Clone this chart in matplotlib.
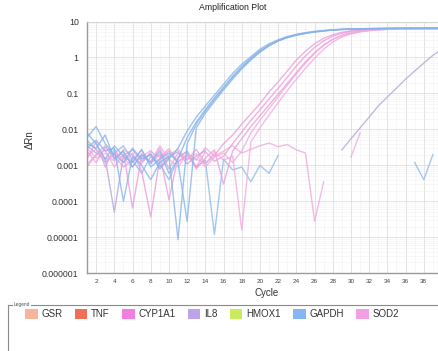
import matplotlib

matplotlib.use("Agg")
import matplotlib.pyplot as plt
import numpy as np
from matplotlib.lines import Line2D
from matplotlib.patches import Patch
from matplotlib.ticker import FixedLocator, NullFormatter

nan = np.nan
plt.rcParams["font.family"] = ["Liberation Sans", "DejaVu Sans"]

# --- data (delta Rn per cycle, 1..40; nan = not drawn) -----------------------
CYCLES = np.arange(1, 41)

GAPDH_1 = [0.006, 0.012, 0.004, 0.002, 0.0012, 0.003, 0.0015, 0.002, 0.0008, 0.0015,
           0.003, 0.009, 0.022, 0.045, 0.09, 0.18, 0.36, 0.65, 1.05, 1.7,
           2.4, 3.1, 3.8, 4.4, 4.9, 5.3, 5.6, 5.9, 6.1, 6.2,
           6.3, 6.35, 6.4, 6.45, 6.5, 6.5, 6.55, 6.55, 6.6, 6.6]
GAPDH_2 = [0.004, 0.003, 0.007, 0.0015, 0.0025, 0.0009, 0.002, 0.0012, 0.0025, 0.0006,
           0.0015, 0.006, 0.016, 0.036, 0.075, 0.15, 0.3, 0.56, 0.95, 1.55,
           2.25, 3.0, 3.7, 4.3, 4.8, 5.2, 5.55, 5.85, 6.05, 6.2,
           6.3, 6.35, 6.4, 6.45, 6.5, 6.5, 6.55, 6.55, 6.6, 6.6]
GAPDH_3 = [0.003, 0.005, 0.0025, 0.003, 0.0001, 0.0018, 0.001, 0.0004, 0.0012, 0.0018,
           0.0000086, 0.004, 0.014, 0.032, 0.068, 0.14, 0.28, 0.52, 0.9, 1.45,
           2.15, 2.9, 3.6, 4.2, 4.7, 5.15, 5.5, 5.8, 6.0, 6.15,
           6.25, 6.3, 6.35, 6.4, 6.45, 6.5, 6.5, 6.55, 6.55, 6.6]
GAPDH_4 = [0.008, 0.004, 0.0015, 0.0035, 0.0018, 0.0012, 0.0028, 0.0009, 0.0015, 0.0022,
           0.0012, 0.000028, 0.011, 0.028, 0.06, 0.125, 0.25, 0.48, 0.85, 1.4,
           2.1, 2.85, 3.55, 4.15, 4.65, 5.1, 5.45, 5.75, 5.95, 6.1,
           6.2, 6.3, 6.35, 6.4, 6.45, 6.5, 6.5, 6.55, 6.55, 6.6]
GAPDH_NTC = [0.005, 0.0028, 0.0012, 0.0022, 0.0035, 0.0014, 0.0006, 0.0018, 0.0011, 0.0004,
             0.0016, 0.0025, 0.0009, 0.0014, 0.000012, 0.0015, 0.00075, 0.0009, 0.00035, 0.001,
             0.0006, 0.0019, nan, nan, nan, nan, nan, nan, nan, nan,
             nan, nan, nan, nan, nan, nan, 0.0012, 0.0004, 0.002, nan]

CYP1A1_1 = [0.0009, 0.002, 0.0035, 0.0015, 0.0025, 0.000065, 0.0018, 0.0012, 0.003, 0.0008,
            0.0022, 0.0014, 0.0028, 0.0011, 0.0019, 0.004, 0.007, 0.014, 0.027, 0.052,
            0.11, 0.21, 0.42, 0.85, 1.5, 2.4, 3.4, 4.3, 5.0, 5.5,
            5.8, 6.0, 6.1, 6.2, 6.25, 6.3, 6.3, 6.35, 6.35, 6.4]
CYP1A1_2 = [0.0015, 0.0045, 0.0009, 0.0028, 0.0012, 0.0022, 0.0007, 0.000037, 0.0016, 0.0025,
            0.0013, 0.0019, 0.0009, 0.0024, 0.0013, 0.0018, 0.004, 0.0085, 0.018, 0.035,
            0.07, 0.14, 0.28, 0.58, 1.1, 1.9, 2.9, 3.9, 4.7, 5.3,
            5.7, 5.95, 6.1, 6.2, 6.25, 6.3, 6.3, 6.35, 6.35, 6.4]
CYP1A1_3 = [0.0025, 0.0012, 0.0032, 0.0018, 0.0009, 0.0014, 0.0026, 0.0011, 0.0021, 0.00011,
            0.0017, 0.0024, 0.0008, 0.0016, 0.0027, 0.0003, 0.0025, 0.0055, 0.012, 0.024,
            0.048, 0.095, 0.19, 0.38, 0.75, 1.35, 2.2, 3.2, 4.1, 4.8,
            5.35, 5.7, 5.95, 6.1, 6.2, 6.25, 6.3, 6.3, 6.35, 6.35]
SOD2_1 = [0.0018, 0.0028, 0.0014, 0.0022, 0.0016, 0.0009, 0.0021, 0.0013, 0.0035, 0.0015,
          0.0009, 0.0021, 0.0015, 0.0011, 0.0023, 0.0014, 0.0018, 0.000016, 0.0045, 0.011,
          0.025, 0.055, 0.12, 0.25, 0.5, 0.95, 1.7, 2.7, 3.7, 4.5,
          5.1, 5.55, 5.85, 6.05, 6.15, 6.2, 6.25, 6.3, 6.3, 6.35]
SOD2_2 = [0.0011, 0.0019, 0.0027, 0.0009, 0.0021, 0.0013, 0.0017, 0.0026, 0.0012, 0.0019,
          0.0028, 0.0015, 0.0021, 0.0009, 0.0017, 0.0022, 0.0012, 0.0025, 0.008, 0.018,
          0.038, 0.08, 0.17, 0.35, 0.7, 1.3, 2.2, 3.2, 4.1, 4.8,
          5.3, 5.65, 5.9, 6.05, 6.15, 6.2, 6.25, 6.3, 6.3, 6.35]
SOD2_NTC = [0.003, 0.0016, 0.0022, 0.0013, 0.0028, 0.0019, 0.0011, 0.0024, 0.0017, 0.0029,
            0.0012, 0.002, 0.0014, 0.0031, 0.0018, 0.0025, 0.0035, 0.0022, 0.0028, 0.0035,
            0.0042, 0.0033, 0.0038, 0.0027, 0.0022, 0.000028, 0.00035, nan, nan, 0.0017,
            0.008, nan, nan, nan, nan, nan, nan, nan, nan, nan]

IL8_1 = [0.0035, 0.0022, 0.0016, 0.00005, 0.0019, 0.0027, 0.0013, 0.0021, 0.0009, 0.0017,
         0.0024, 0.0011, 0.0018, 0.0026, nan, nan, nan, nan, nan, nan,
         nan, nan, nan, nan, nan, nan, nan, nan, 0.0027, 0.0055,
         0.011, 0.022, 0.045, 0.08, 0.14, 0.25, 0.42, 0.7, 1.15, 1.7]

GENES = ["GSR", "TNF", "CYP1A1", "IL8", "HMOX1", "GAPDH", "SOD2"]
GENE_COLORS = ["#f7b59b", "#ee6f56", "#f27ee0", "#bca3ea", "#c9ec5c", "#86b6f2", "#f1a0e4"]

TRACES = [
    (GAPDH_NTC, "#8dbbea"),
    (SOD2_NTC, "#eeaadd"),
    (IL8_1, "#b3a8dc"),
    (CYP1A1_1, "#ec9ddb"), (CYP1A1_2, "#ec9ddb"), (CYP1A1_3, "#ec9ddb"),
    (SOD2_1, "#f0abe0"), (SOD2_2, "#f0abe0"),
    (GAPDH_1, "#86b4ea"), (GAPDH_2, "#86b4ea"), (GAPDH_3, "#86b4ea"), (GAPDH_4, "#86b4ea"),
]

# --- figure ------------------------------------------------------------------
W, H = 439, 351
fig = plt.figure(figsize=(W / 100, H / 100), dpi=100)
ax = fig.add_axes([87 / W, 1 - 273.3 / H, 355 / W, (273.3 - 21.5) / H])

for vals, col in TRACES:
    ax.plot(CYCLES, vals, color=col, lw=1.0, alpha=0.8, clip_on=True)

ax.set_yscale("log")
ax.set_ylim(1e-6, 10)
ax.set_xlim(1, 40)
ax.set_yticks([1e-6, 1e-5, 1e-4, 1e-3, 1e-2, 1e-1, 1, 10])
ax.set_yticklabels(["0.000001", "0.00001", "0.0001", "0.001", "0.01", "0.1", "1", "10"])
ax.yaxis.set_minor_formatter(NullFormatter())
ax.set_xticks(np.arange(2, 40, 2))
ax.xaxis.set_minor_locator(FixedLocator(np.arange(1, 41, 1)))
ax.tick_params(axis="y", which="both", length=0, labelsize=6.3, colors="#333333", pad=6)
ax.tick_params(axis="x", which="both", length=0, labelsize=4.6, colors="#444444", pad=4)

ax.grid(True, which="major", color="#dedede", lw=0.6)
ax.grid(True, which="minor", color="#ececec", lw=0.4, ls=(0, (2, 1)))
ax.set_axisbelow(True)
for s in ["left", "bottom"]:
    ax.spines[s].set_color("#9a9a9a")
    ax.spines[s].set_linewidth(1.0)
ax.spines["top"].set_color("#d0d0d0")
ax.spines["top"].set_linewidth(0.6)
ax.spines["right"].set_visible(False)

fig.text(233 / W, 1 - 8 / H, "Amplification Plot", ha="center", va="center",
         fontsize=6.3, color="#222222")
fig.text(267 / W, 1 - 293 / H, "Cycle", ha="center", va="center", fontsize=7, color="#333333")
fig.text(30 / W, 1 - 140 / H, "ΔRn", ha="center", va="center", rotation=90,
         fontsize=7, color="#333333")

# --- legend panel --------------------------------------------------------------
fig.add_artist(Line2D([8 / W, 1.0], [1 - 305 / H, 1 - 305 / H], color="#8a8a8a", lw=0.8))
fig.add_artist(Line2D([8 / W, 8 / W], [1 - 305 / H, 0.0], color="#8a8a8a", lw=0.8))
fig.text(14 / W, 1 - 304.5 / H, "Legend", ha="left", va="center", fontsize=3.5,
         color="#555555", bbox=dict(facecolor="white", edgecolor="none", pad=0.6))

handles = [Patch(facecolor=c, edgecolor="none") for c in GENE_COLORS]
fig.legend(handles, GENES, ncol=len(GENES), loc="center left",
           bbox_to_anchor=(20 / W, 1 - 314 / H), frameon=False, fontsize=7,
           handlelength=1.3, handleheight=1.3, handletextpad=0.4,
           columnspacing=1.25, borderpad=0, labelcolor="#333333")

fig.savefig("out.png", dpi=100, facecolor="white")
